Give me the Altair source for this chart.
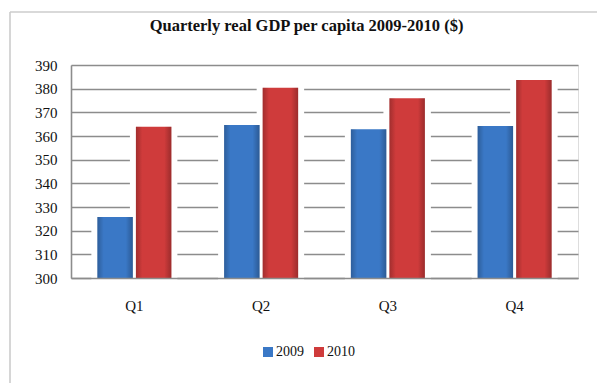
import altair as alt
import pandas as pd

quarters = ["Q1", "Q2", "Q3", "Q4"]
years = ["2009", "2010"]
gdp_2009 = [325.8, 364.6, 362.9, 364.2]
gdp_2010 = [363.9, 380.4, 375.9, 383.7]
y_ticks = [300, 310, 320, 330, 340, 350, 360, 370, 380, 390]
colors = ["#3a78c6", "#cf3b3b"]

rows = []
for i, q in enumerate(quarters):
    rows.append({"quarter": q, "year": years[0], "value": gdp_2009[i]})
    rows.append({"quarter": q, "year": years[1], "value": gdp_2010[i]})
df = pd.DataFrame(rows)

FONT = "Liberation Serif"
GRID = "#8c8c8c"

x_enc = alt.X(
    "quarter:N", sort=quarters, title=None,
    scale=alt.Scale(paddingInner=0.416, paddingOuter=0.208),
    axis=alt.Axis(labelAngle=0, ticks=False, domainColor=GRID, domainWidth=1.6,
                  labelPadding=20, labelFontSize=15, labelFont=FONT,
                  labelColor="#111111", zindex=1),
)
y_enc = alt.Y(
    "value:Q", title=None,
    scale=alt.Scale(domain=[300, 390], nice=False, zero=False),
    axis=alt.Axis(values=y_ticks, ticks=False, grid=True, gridColor=GRID,
                  gridWidth=1.6, domainColor=GRID, domainWidth=1.6,
                  labelPadding=14, labelFontSize=15, labelFont=FONT,
                  labelColor="#111111"),
)
xo_enc = alt.XOffset("year:N", sort=years, scale=alt.Scale(paddingInner=0.08))

base = alt.Chart(df).encode(x=x_enc, y=y_enc, y2=alt.datum(300), xOffset=xo_enc)

halo = base.mark_bar(fill="white", stroke="white", strokeWidth=12)

bars = base.mark_bar().encode(
    color=alt.Color(
        "year:N",
        scale=alt.Scale(domain=years, range=colors),
        legend=alt.Legend(orient="none", legendX=190, legendY=280,
                          direction="horizontal", title=None,
                          symbolType="square", symbolSize=100,
                          symbolStrokeWidth=0, labelFontSize=14,
                          labelFont=FONT, labelColor="#111111",
                          columnPadding=8, labelOffset=1),
    )
)

shade = base.mark_bar(
    fill=alt.Gradient(
        gradient="linear", x1=0, x2=1, y1=0, y2=0,
        stops=[
            alt.GradientStop(offset=0, color="rgba(0,0,0,0.22)"),
            alt.GradientStop(offset=0.18, color="rgba(0,0,0,0)"),
            alt.GradientStop(offset=0.8, color="rgba(0,0,0,0)"),
            alt.GradientStop(offset=1, color="rgba(0,0,0,0.25)"),
        ],
    )
)

frame_df = pd.DataFrame({"k": [0]})
frame_top = alt.Chart(frame_df).mark_rule(color="#cccccc", strokeWidth=1.6).encode(
    x=alt.value(-61), x2=alt.value(540), y=alt.value(-53), y2=alt.value(-53)
)
frame_left = alt.Chart(frame_df).mark_rule(color="#cccccc", strokeWidth=1.6).encode(
    x=alt.value(-61), x2=alt.value(-61), y=alt.value(-53), y2=alt.value(330)
)

chart = alt.layer(halo, bars, shade, frame_top, frame_left).properties(
    width=507, height=213,
    autosize="none",
    padding={"left": 71, "top": 65, "right": 19, "bottom": 105},
    title=alt.TitleParams(
        "Quarterly real GDP per capita 2009-2010  ($)",
        font=FONT, fontSize=16.5, fontWeight="bold", color="#111111",
        anchor="middle", dx=-18, offset=-23,
    ),
).configure_view(stroke=None).configure(background="white")

chart.save("out.html", embed_options={"renderer": "svg", "actions": False})
